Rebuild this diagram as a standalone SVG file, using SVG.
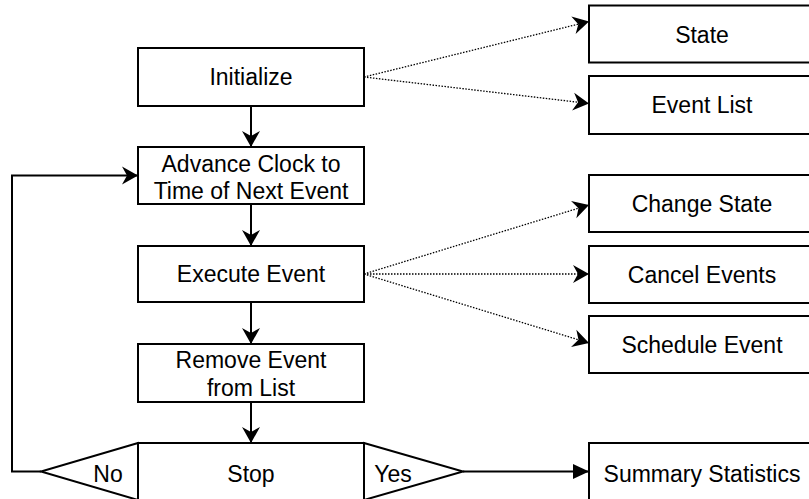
<svg xmlns="http://www.w3.org/2000/svg" width="809" height="499" viewBox="0 0 809 499">
  <style>
    .box { fill: #fff; stroke: #000; stroke-width: 2; }
    .lbl { font-family: "Liberation Sans", Arial, sans-serif; font-size: 23px; fill: #000; text-anchor: middle; }
    .flow { fill: none; stroke: #000; stroke-width: 2; }
    .ref { fill: none; stroke: #000; stroke-width: 1.3; stroke-dasharray: 1.5 1.5; }
  </style>
  <defs>
    <marker id="classic" markerUnits="userSpaceOnUse" viewBox="-17 -10 18 20" markerWidth="18" markerHeight="20" refX="0" refY="0" orient="auto">
      <path d="M0,0 L-16,-9 L-11,0 L-16,9 Z" fill="#000"/>
    </marker>
    <marker id="block" markerUnits="userSpaceOnUse" viewBox="-17 -9 18 18" markerWidth="18" markerHeight="18" refX="0" refY="0" orient="auto">
      <path d="M0,0 L-16,-7.5 L-16,7.5 Z" fill="#000"/>
    </marker>
  </defs>
  <rect width="809" height="499" fill="#fff"/>

  <!-- connectors -->
  <g id="connectors">
    <line class="flow" x1="251" y1="106" x2="251" y2="147" marker-end="url(#classic)"/>
    <line class="flow" x1="251" y1="204" x2="251" y2="246" marker-end="url(#classic)"/>
    <line class="flow" x1="251" y1="302" x2="251" y2="344" marker-end="url(#classic)"/>
    <line class="flow" x1="251" y1="402" x2="251" y2="443" marker-end="url(#classic)"/>
    <polyline class="flow" points="41,471.5 12,471.5 12,175.5 138,175.5" marker-end="url(#classic)"/>
    <line class="flow" x1="463" y1="471.5" x2="589" y2="471.5" marker-end="url(#block)"/>
    <line class="ref" x1="364" y1="77" x2="589" y2="21.5" marker-end="url(#classic)"/>
    <line class="ref" x1="364" y1="77" x2="589" y2="103.5" marker-end="url(#classic)"/>
    <line class="ref" x1="364" y1="274" x2="589" y2="205" marker-end="url(#classic)"/>
    <line class="ref" x1="364" y1="274" x2="589" y2="274" marker-end="url(#classic)"/>
    <line class="ref" x1="364" y1="274" x2="589" y2="343" marker-end="url(#classic)"/>
  </g>

  <!-- main flow -->
  <g id="initialize">
    <rect class="box" x="138" y="48" width="226" height="58"/>
    <text class="lbl" x="251" y="85">Initialize</text>
  </g>
  <g id="advance-clock">
    <rect class="box" x="138" y="147" width="226" height="57"/>
    <text class="lbl" x="251" y="171.5">Advance Clock to</text>
    <text class="lbl" x="251" y="199">Time of Next Event</text>
  </g>
  <g id="execute-event">
    <rect class="box" x="138" y="246" width="226" height="56"/>
    <text class="lbl" x="251" y="282">Execute Event</text>
  </g>
  <g id="remove-event">
    <rect class="box" x="138" y="344" width="226" height="58"/>
    <text class="lbl" x="251" y="368">Remove Event</text>
    <text class="lbl" x="251" y="395.5">from List</text>
  </g>
  <g id="stop">
    <rect class="box" x="138" y="443" width="226" height="58"/>
    <text class="lbl" x="251" y="481.5">Stop</text>
  </g>
  <g id="no-branch">
    <polygon class="box" points="138,443 41,471.5 138,500"/>
    <text class="lbl" x="108" y="481.5">No</text>
  </g>
  <g id="yes-branch">
    <polygon class="box" points="364,443 463,471.5 364,500"/>
    <text class="lbl" x="393" y="481.5">Yes</text>
  </g>

  <!-- side boxes -->
  <g id="state">
    <rect class="box" x="589" y="5.5" width="226" height="57"/>
    <text class="lbl" x="702" y="42.5">State</text>
  </g>
  <g id="event-list">
    <rect class="box" x="589" y="76" width="226" height="58"/>
    <text class="lbl" x="702" y="113">Event List</text>
  </g>
  <g id="change-state">
    <rect class="box" x="589" y="175" width="226" height="57"/>
    <text class="lbl" x="702" y="211.5">Change State</text>
  </g>
  <g id="cancel-events">
    <rect class="box" x="589" y="246" width="226" height="57"/>
    <text class="lbl" x="702" y="282.5">Cancel Events</text>
  </g>
  <g id="schedule-event">
    <rect class="box" x="589" y="316" width="226" height="57"/>
    <text class="lbl" x="702" y="352.5">Schedule Event</text>
  </g>
  <g id="summary-statistics">
    <rect class="box" x="589" y="443" width="226" height="58"/>
    <text class="lbl" x="702" y="481.5">Summary Statistics</text>
  </g>
</svg>
